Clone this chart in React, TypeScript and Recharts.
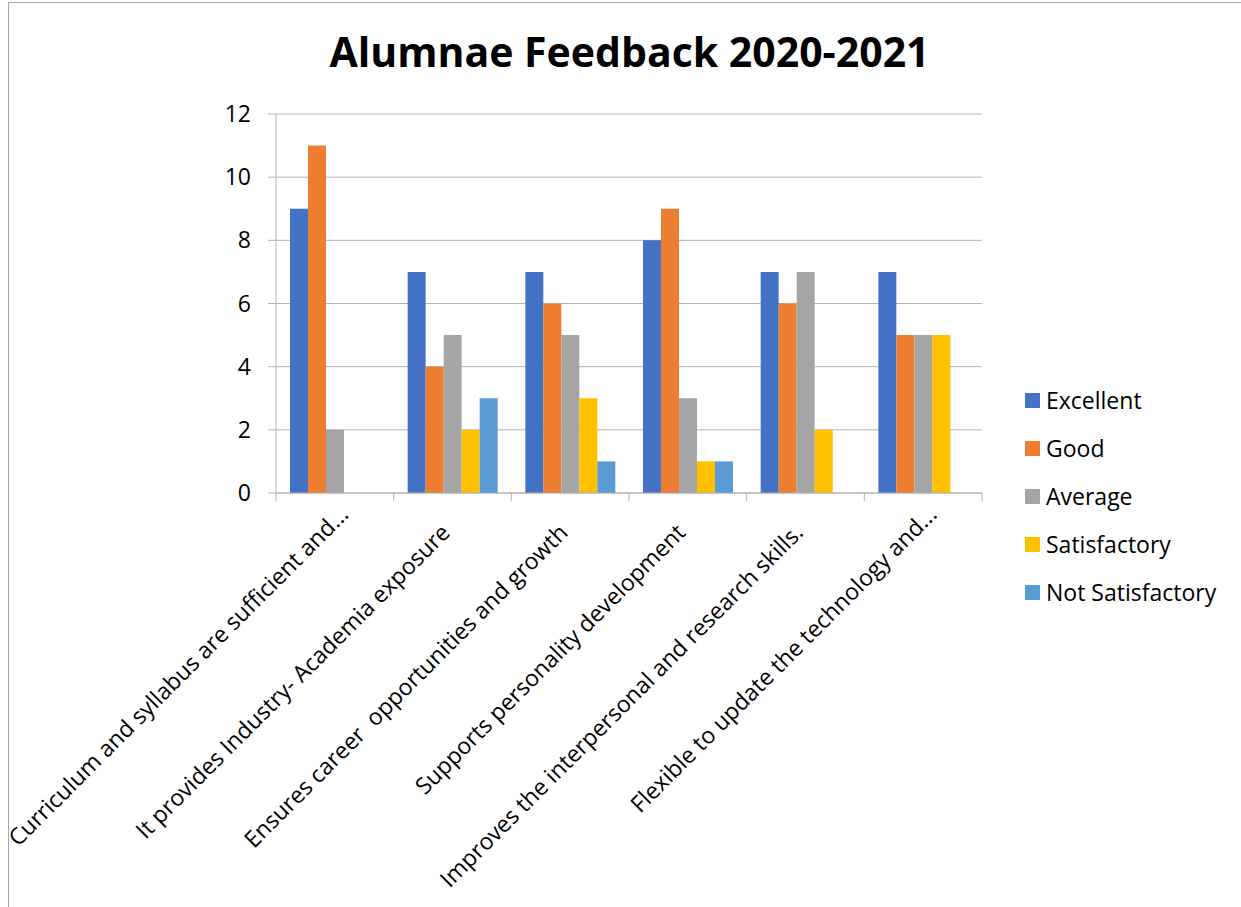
import { BarChart, Bar, XAxis, YAxis, CartesianGrid } from "recharts";

const categories = [
    "Curriculum and syllabus are sufficient and...",
    "It provides Industry- Academia exposure",
    "Ensures career  opportunities and growth",
    "Supports personality development",
    "Improves the interpersonal and research skills.",
    "Flexible to update the technology and...",
];

const excellent = [9, 7, 7, 8, 7, 7];
const good = [11, 4, 6, 9, 6, 5];
const average = [2, 5, 5, 3, 7, 5];
const satisfactory = [0, 2, 3, 1, 2, 5];
const notSatisfactory = [0, 3, 1, 1, 0, 0];

const yTicks = [0, 2, 4, 6, 8, 10, 12];

const SERIES = [
    { key: "excellent", label: "Excellent", color: "#4472C4", values: excellent },
    { key: "good", label: "Good", color: "#ED7D31", values: good },
    { key: "average", label: "Average", color: "#A5A5A5", values: average },
    { key: "satisfactory", label: "Satisfactory", color: "#FFC000", values: satisfactory },
    { key: "notSatisfactory", label: "Not Satisfactory", color: "#5B9BD5", values: notSatisfactory },
];

const data = categories.map((name, i) => {
    const row: Record<string, any> = { name };
    SERIES.forEach((s) => (row[s.key] = s.values[i]));
    return row;
});

const W = 1241;
const H = 907;
const PLOT_LEFT = 276;
const PLOT_RIGHT = 982;
const PLOT_TOP = 114;
const PLOT_BOTTOM = 493;
const FONT = "'Open Sans', Lato, sans-serif";
const LINE = "#b3b3b3";

const BAND = (PLOT_RIGHT - PLOT_LEFT) / categories.length;

// truncated labels (ending in "...") sit a little higher than the full ones
const XTick = ({ x, y, payload, index }: any) => {
    const half = BAND / 2;
    const truncated = String(payload.value).endsWith("...");
    const tx = truncated ? x + 15 : x - 1;
    const ty = truncated ? y + 23 : y + 41;
    return (
        <g>
            <line x1={x - half} y1={y} x2={x - half} y2={y + 8} stroke={LINE} />
            {index === categories.length - 1 && (
                <line x1={x + half} y1={y} x2={x + half} y2={y + 8} stroke={LINE} />
            )}
            <text
                x={tx}
                y={ty}
                transform={`rotate(-45, ${tx}, ${ty})`}
                textAnchor="end"
                fontSize={23}
                fontFamily={FONT}
                fill="#000"
                style={{ whiteSpace: "pre" }}
            >
                {payload.value}
            </text>
        </g>
    );
};

export default function App() {
    return (
        <div style={{ position: "absolute", left: 0, top: 0, width: W, height: H, background: "#fff" }}>
            <div
                style={{
                    position: "absolute",
                    left: 8,
                    top: 2,
                    width: W,
                    height: H,
                    borderLeft: "1px solid #a6a6a6",
                    borderTop: "1px solid #a6a6a6",
                }}
            />
            <div
                style={{
                    position: "absolute",
                    left: 0,
                    width: W,
                    top: 23,
                    textAlign: "center",
                    fontFamily: FONT,
                    fontWeight: 700,
                    fontSize: 41,
                    color: "#000",
                    paddingLeft: 18,
                    boxSizing: "border-box",
                }}
            >
                Alumnae Feedback 2020-2021
            </div>
            <div style={{ position: "absolute", left: 0, top: 0 }}>
                <BarChart
                    width={W}
                    height={H}
                    data={data}
                    margin={{ top: PLOT_TOP, right: W - PLOT_RIGHT, bottom: H - PLOT_BOTTOM - 300, left: 0 }}
                    barCategoryGap={14}
                    barGap={0}
                >
                    <CartesianGrid vertical={false} stroke={LINE} />
                    <XAxis
                        dataKey="name"
                        height={300}
                        interval={0}
                        tickSize={0}
                        tickMargin={0}
                        tickLine={false}
                        axisLine={{ stroke: LINE }}
                        tick={<XTick />}
                    />
                    <YAxis
                        width={PLOT_LEFT}
                        domain={[0, 12]}
                        ticks={yTicks}
                        interval={0}
                        tickSize={8}
                        tickMargin={17}
                        tickLine={{ stroke: LINE }}
                        axisLine={{ stroke: LINE }}
                        tick={{ fontSize: 23, fontFamily: FONT, fill: "#000" }}
                    />
                    {SERIES.map((s) => (
                        <Bar key={s.key} dataKey={s.key} name={s.label} fill={s.color} isAnimationActive={false} />
                    ))}
                </BarChart>
            </div>
            {SERIES.map((s, i) => (
                <div
                    key={s.key}
                    style={{
                        position: "absolute",
                        left: 1025,
                        top: 400 + i * 48 - 16,
                        height: 32,
                        display: "flex",
                        alignItems: "center",
                        fontFamily: FONT,
                        fontSize: 23,
                        color: "#000",
                        whiteSpace: "nowrap",
                    }}
                >
                    <span style={{ width: 15, height: 15, background: s.color, marginRight: 6, display: "inline-block" }} />
                    {s.label}
                </div>
            ))}
        </div>
    );
}
